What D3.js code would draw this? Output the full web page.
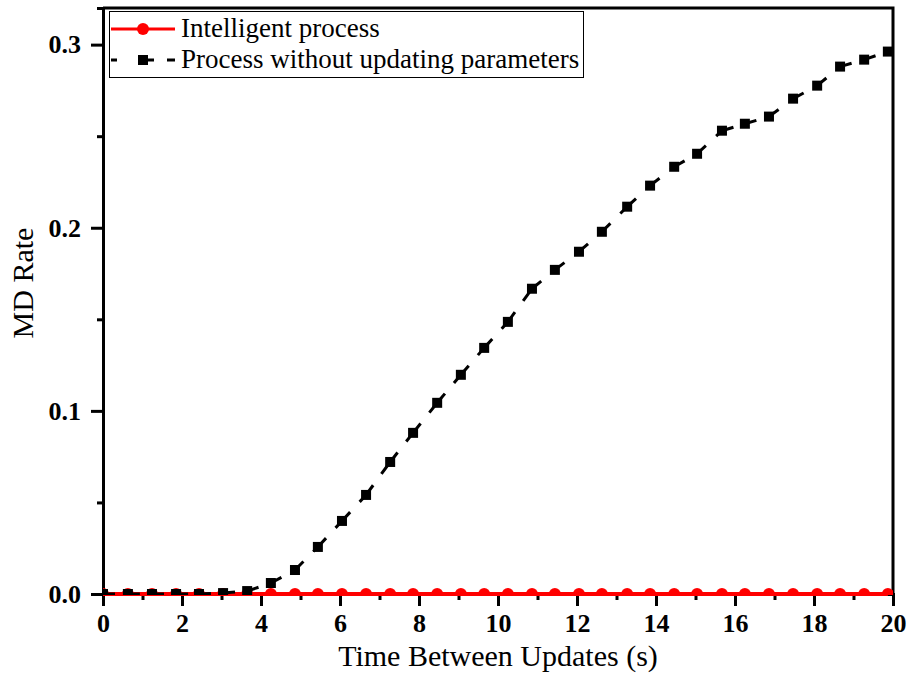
<!DOCTYPE html>
<html>
<head>
<meta charset="utf-8">
<script src="https://cdn.jsdelivr.net/npm/d3@7"></script>
<style>
    body { margin: 0; background: #fff; }
    svg { display: block; }
    text { font-family: "Liberation Serif", "Times New Roman", serif; }
</style>
</head>
<body>
<div id="chart"></div>
<script>
const timeValues = [0, 0.63, 1.24, 1.85, 2.43, 3.04, 3.65, 4.25, 4.86, 5.44, 6.05, 6.66, 7.27, 7.85,
    8.46, 9.06, 9.65, 10.25, 10.86, 11.44, 12.05, 12.63, 13.27, 13.85, 14.46, 15.04, 15.67, 16.25,
    16.86, 17.47, 18.08, 18.66, 19.27, 19.87];

const intelligentRate = [0, 0, 0, 0, 0, 0, 0, 0, 0, 0, 0, 0, 0, 0, 0, 0, 0,
    0, 0, 0, 0, 0, 0, 0, 0, 0, 0, 0, 0, 0, 0, 0, 0, 0];

const noUpdateRate = [0, 0, 0, 0, 0, 0.0005, 0.0016, 0.006, 0.0131, 0.0257, 0.0399, 0.0541, 0.0721,
    0.088, 0.1044, 0.1197, 0.1344, 0.1486, 0.1667, 0.177, 0.1869, 0.1978, 0.2115, 0.223, 0.2333,
    0.2404, 0.253, 0.2568, 0.2607, 0.2705, 0.2776, 0.288, 0.2918, 0.2962];

const xMajorTicks = [0, 2, 4, 6, 8, 10, 12, 14, 16, 18, 20];
const xMinorTicks = [1, 3, 5, 7, 9, 11, 13, 15, 17, 19];
const yMajorTicks = [0, 0.1, 0.2, 0.3];
const yMinorTicks = [0.05, 0.15, 0.25];

const seriesNames = ["Intelligent process", "Process without updating parameters"];

document.addEventListener("DOMContentLoaded", function () {

    const width = 909, height = 673,
        plot = {left: 103, right: 893, top: 8, bottom: 594};

    let svg = d3.select("#chart")
        .append("svg")
        .attr("width", width)
        .attr("height", height);

    let x = d3.scaleLinear().domain([0, 20]).range([plot.left, plot.right]);
    let y = d3.scaleLinear().domain([0, 0.32]).range([plot.bottom, plot.top]);

    svg.append("clipPath").attr("id", "clip")
        .append("rect")
        .attr("x", plot.left)
        .attr("y", plot.top)
        .attr("width", plot.right - plot.left)
        .attr("height", plot.bottom - plot.top + 1);

    // axes
    let styleAxis = function (g) {
        g.selectAll("path, line").attr("stroke", "#000").attr("stroke-width", 3);
        g.selectAll("text")
            .attr("fill", "#000")
            .style("font-family", "'Liberation Serif', 'Times New Roman', serif")
            .style("font-weight", "bold")
            .style("font-size", "26px");
    };

    svg.append("g")
        .attr("transform", "translate(0," + plot.bottom + ")")
        .call(d3.axisBottom(x).tickValues(xMinorTicks).tickSize(6).tickFormat(""))
        .call(styleAxis);
    svg.append("g")
        .attr("transform", "translate(0," + plot.bottom + ")")
        .call(d3.axisBottom(x).tickValues(xMajorTicks).tickSize(12).tickSizeOuter(0).tickPadding(8))
        .call(styleAxis);

    svg.append("g")
        .attr("transform", "translate(" + plot.left + ",0)")
        .call(d3.axisLeft(y).tickValues(yMinorTicks).tickSize(6).tickFormat(""))
        .call(styleAxis);
    svg.append("g")
        .attr("transform", "translate(" + plot.left + ",0)")
        .call(d3.axisLeft(y).tickValues(yMajorTicks).tickSize(12).tickSizeOuter(0).tickPadding(10)
            .tickFormat(d3.format(".1f")))
        .call(styleAxis);

    // frame top and right
    svg.append("path")
        .attr("d", "M" + plot.left + "," + plot.top + "H" + plot.right + "V" + plot.bottom)
        .attr("fill", "none")
        .attr("stroke", "#000")
        .attr("stroke-width", 3);

    // titles
    svg.append("text")
        .attr("x", (plot.left + plot.right) / 2)
        .attr("y", 666)
        .attr("text-anchor", "middle")
        .style("font-size", "30px")
        .text("Time Between Updates (s)");

    svg.append("text")
        .attr("transform", "translate(33,283) rotate(-90)")
        .attr("text-anchor", "middle")
        .style("font-size", "30px")
        .text("MD Rate");

    let redPts = timeValues.map((t, i) => ({x: t, y: intelligentRate[i]}));
    let blackPts = timeValues.map((t, i) => ({x: t, y: noUpdateRate[i]}));

    let line = d3.line().x(d => x(d.x)).y(d => y(d.y));

    // intelligent process (red)
    svg.append("path")
        .attr("d", line(redPts))
        .attr("fill", "none")
        .attr("stroke", "#ff0000")
        .attr("stroke-width", 4);

    let marks = svg.append("g").attr("clip-path", "url(#clip)");

    marks.selectAll("circle")
        .data(redPts)
        .enter().append("circle")
        .attr("cx", d => x(d.x))
        .attr("cy", d => y(d.y))
        .attr("r", 6)
        .attr("fill", "#ff0000");

    // process without update (black dashed, pattern restarts each segment)
    marks.selectAll("path.seg")
        .data(d3.pairs(blackPts))
        .enter().append("path")
        .attr("class", "seg")
        .attr("d", d => line(d))
        .attr("fill", "none")
        .attr("stroke", "#000")
        .attr("stroke-width", 3)
        .attr("stroke-dasharray", "12,14");

    marks.selectAll("rect.sq")
        .data(blackPts)
        .enter().append("rect")
        .attr("class", "sq")
        .attr("x", d => x(d.x) - 5)
        .attr("y", d => y(d.y) - 5)
        .attr("width", 10)
        .attr("height", 10)
        .attr("fill", "#000");

    // legend
    let lg = svg.append("g");
    lg.append("rect")
        .attr("x", 109.5).attr("y", 11.5)
        .attr("width", 474).attr("height", 66)
        .attr("fill", "#fff")
        .attr("stroke", "#000")
        .attr("stroke-width", 1);

    lg.append("line")
        .attr("x1", 111).attr("x2", 175)
        .attr("y1", 29).attr("y2", 29)
        .attr("stroke", "#ff0000").attr("stroke-width", 3);
    lg.append("circle")
        .attr("cx", 143).attr("cy", 29).attr("r", 6)
        .attr("fill", "#ff0000");

    lg.append("line")
        .attr("x1", 111).attr("x2", 175)
        .attr("y1", 60).attr("y2", 60)
        .attr("stroke", "#000").attr("stroke-width", 3)
        .attr("stroke-dasharray", "6,21,16,13,8");
    lg.append("rect")
        .attr("x", 138).attr("y", 55)
        .attr("width", 10).attr("height", 10)
        .attr("fill", "#000");

    lg.selectAll("text.lbl")
        .data(seriesNames)
        .enter().append("text")
        .attr("class", "lbl")
        .attr("x", 181)
        .attr("y", (d, i) => 37 + i * 31)
        .style("font-size", "27px")
        .text(d => d);

});
</script>
</body>
</html>
